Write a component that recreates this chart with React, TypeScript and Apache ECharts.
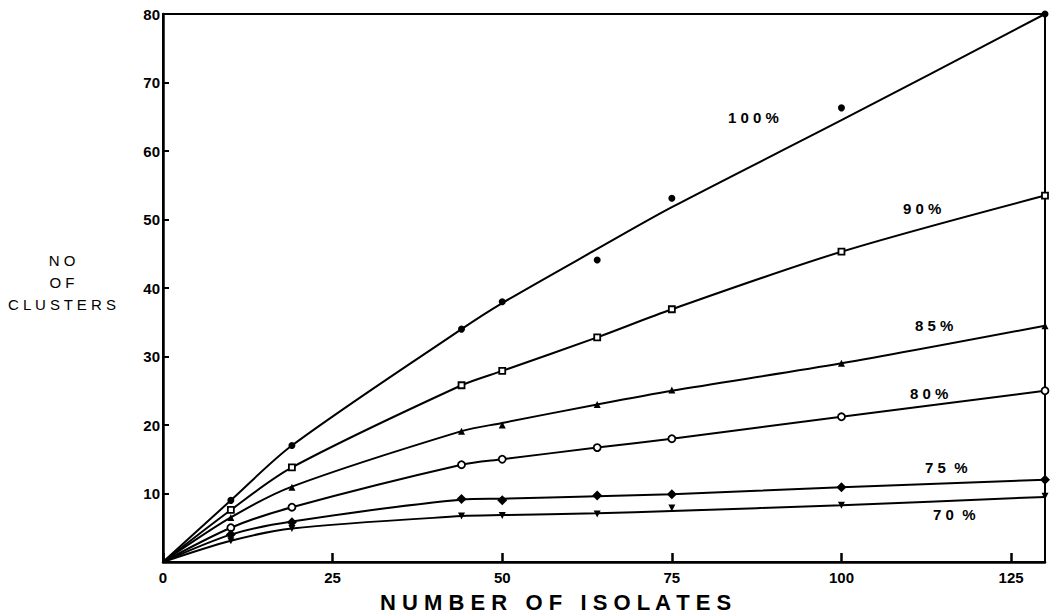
import React, { useEffect, useRef } from "react";
import * as echarts from "echarts";

// x positions (number of isolates)
const isolates = [0, 10, 19, 44, 50, 64, 75, 100, 130];

const pts100 = [0, 9, 17, 34, 38, 44.1, 53.1, 66.3, 80];
const pts90 = [0, 7.6, 13.8, 25.8, 27.9, 32.8, 36.9, 45.3, 53.5];
const pts85 = [0, 6.5, 10.9, 19.1, 20, 23, 25.1, 29, 34.5];
const pts80 = [0, 5, 8, 14.2, 15, 16.7, 18, 21.2, 25];
const pts75 = [0, 4, 5.8, 9.2, 9, 9.7, 9.9, 10.9, 12];
const pts70 = [0, 3.1, 4.9, 6.7, 6.8, 7, 7.9, 8.3, 9.6];

// fitted curves
const fit100 = [0, 9, 17, 34, 37.8, 45.7, 51.8, 64.5, 80];
const fit90 = [0, 7.6, 13.8, 25.8, 27.9, 32.8, 36.9, 45.3, 53.5];
const fit85 = [0, 6.5, 11, 19.1, 20.3, 23, 25, 29, 34.5];
const fit80 = [0, 5, 8, 14.2, 15, 16.7, 18, 21.2, 25];
const fit75 = [0, 4, 5.9, 9.1, 9.25, 9.6, 9.9, 10.9, 12];
const fit70 = [0, 3.1, 4.9, 6.7, 6.85, 7.1, 7.45, 8.3, 9.5];

const seriesNames = ["100%", "90%", "85%", "80%", "75 %", "70 %"];
const xTicks = [0, 25, 50, 75, 100, 125];
const yTicks = [10, 20, 30, 40, 50, 60, 70, 80];

const FONT = "'Liberation Sans', 'DejaVu Sans', sans-serif";

export default function App() {
  const ref = useRef<HTMLDivElement>(null);
  useEffect(() => {
    if (!ref.current) return;
    const chart = echarts.init(ref.current, undefined, { renderer: "svg" });
    const fits = [fit100, fit90, fit85, fit80, fit75, fit70];
    const pts = [pts100, pts90, pts85, pts80, pts75, pts70];
    const symbols = [
      "circle",
      "rect",
      "triangle",
      "circle",
      "diamond",
      "path://M0,0 L10,0 L5,9 Z",
    ];
    const sizes = [7, 6, 7, 7, 10, 7];
    const hollow = [false, true, false, true, false, false];
    const lines = fits.map((vals, i) => ({
      type: "line",
      name: seriesNames[i],
      data: isolates.map((x, j) => [x, vals[j]]),
      smooth: 0.3,
      showSymbol: false,
      symbol: "none",
      lineStyle: { color: "#000", width: 2 },
      z: 2,
    }));
    const marks = pts.map((vals, i) => ({
      type: "scatter",
      name: seriesNames[i] + " pts",
      data: isolates.map((x, j) => [x, vals[j]]).filter((d) => d[0] > 0),
      symbol: symbols[i],
      symbolSize: sizes[i],
      itemStyle: {
        color: hollow[i] ? "#fff" : "#000",
        borderColor: "#000",
        borderWidth: hollow[i] ? 1.8 : 0,
        opacity: 1,
      },
      z: 3,
    }));
    const labelPos = [
      [728, 110],
      [903, 201],
      [915, 318],
      [910, 386],
      [925, 460],
      [933, 507],
    ];
    chart.setOption({
      animation: false,
      grid: {
        left: 163,
        right: 7,
        top: 14,
        bottom: 54,
        show: true,
        borderColor: "#000",
        borderWidth: 2,
      },
      xAxis: {
        type: "value",
        min: 0,
        max: 130,
        interval: 25,
        axisLine: { show: true, lineStyle: { color: "#000", width: 2.5 } },
        axisTick: { show: true, inside: true, length: 9, lineStyle: { color: "#000", width: 2.5 } },
        axisLabel: {
          showMaxLabel: false,
          color: "#000",
          fontFamily: FONT,
          fontWeight: "bold",
          fontSize: 15,
          margin: 8,
          formatter: (v: number) => (xTicks.includes(v) ? String(v) : ""),
        },
        splitLine: { show: false },
      },
      yAxis: {
        type: "value",
        min: 0,
        max: 80,
        interval: 10,
        axisLine: { show: true, lineStyle: { color: "#000", width: 2.5 } },
        axisTick: { show: true, inside: true, length: 6, lineStyle: { color: "#000", width: 2 } },
        axisLabel: {
          showMinLabel: false,
          color: "#000",
          fontFamily: FONT,
          fontWeight: "bold",
          fontSize: 15,
          margin: 3,
          formatter: (v: number) => (yTicks.includes(v) ? String(v) : ""),
        },
        splitLine: { show: false },
      },
      series: [...lines, ...marks],
      graphic: [
        ...seriesNames.map((n, i) => ({
          type: "text",
          left: labelPos[i][0],
          top: labelPos[i][1],
          style: {
            text: n.split("").join(" ").replace("  ", " "),
            fill: "#000",
            font: `600 15px ${FONT}`,
          },
        })),
        {
          type: "text",
          left: 380,
          top: 591,
          style: {
            text: "N U M B E R   O F   I S O L A T E S",
            fill: "#000",
            font: `bold 22px ${FONT}`,
          },
        },
        {
          type: "text",
          x: 62,
          y: 249,
          style: {
            text: "N O\nO F\nC L U S T E R S",
            fill: "#000",
            align: "center",
            verticalAlign: "top",
            font: `15px ${FONT}`,
            lineHeight: 22,
          },
        },
      ],
    });
    return () => chart.dispose();
  }, []);
  return <div ref={ref} style={{ width: 1052, height: 616, position: "absolute", left: 0, top: 0 }} />;
}
